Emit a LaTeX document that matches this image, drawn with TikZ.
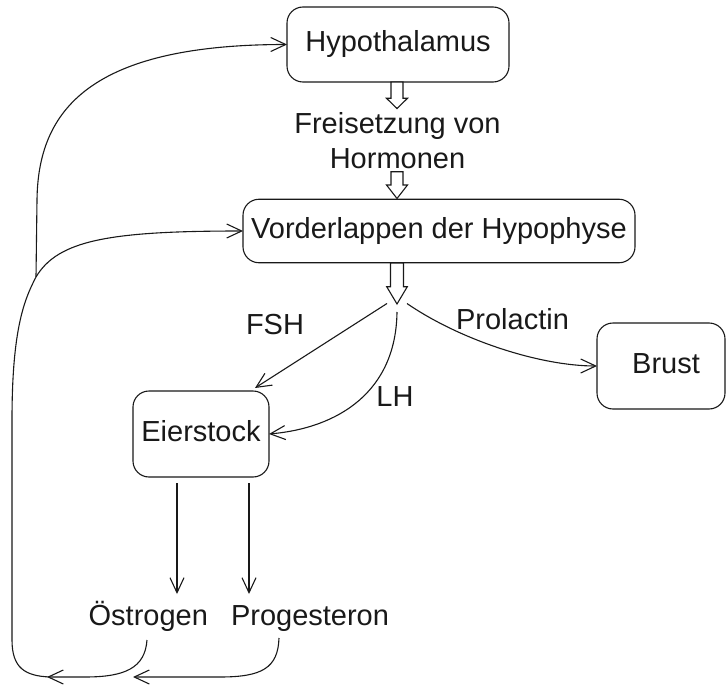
\documentclass[tikz,border=0pt]{standalone}
\usepackage{fontspec}
\setmainfont{Liberation Sans}
\usetikzlibrary{arrows.meta,calc}
\begin{document}
\begin{tikzpicture}[x=1pt,y=-1pt,
  line width=1.1pt,
  every node/.style={font=\fontsize{29}{34}\selectfont, text=black!90},
  box/.style={draw=black!90, rounded corners=16pt, inner sep=0pt, outer sep=0pt,
    text height=21pt, text depth=6pt},
  lbl/.style={anchor=base, inner sep=0pt},
  conn/.style={draw=black!90, -{Straight Barb[length=15pt,width=14pt,line width=1.1pt]}},
  blk/.style={draw=black!90, fill=white, line join=miter}
]
\useasboundingbox (0,0) rectangle (726,685);

% boxes
\node[box, minimum width=222pt, minimum height=75pt] (hyp) at (398,44.5) {Hypothalamus};
\node[box, minimum width=392pt, minimum height=63.5pt] (vord) at (439,231) {Vorderlappen der Hypophyse};
\node[box, minimum width=136pt, minimum height=86pt] (eier) at (201,434) {Eierstock};
\node[box, minimum width=128pt, minimum height=86pt] (brust) at (661,366) {\hspace*{10pt}Brust};

% labels
\node[lbl] (frei) at (397.5,133.3) {Freisetzung von};
\node[lbl] (horm) at (397.5,168.3) {Hormonen};
\node[lbl] (fsh) at (275,334) {FSH};
\node[lbl] (lh) at (395,406.7) {LH};
\node[lbl] (prol) at (512.5,329.3) {Prolactin};
\node[lbl] (oest) at (148.3,625.5) {Östrogen};
\node[lbl] (prog) at (310,625) {Progesteron};

% hollow block arrows
\path[blk] (391,82) -- (391,98.3) -- (386.5,98.3) -- (397,108.5) -- (407.5,98.3) -- (403,98.3) -- (403,82) -- cycle;
\path[blk] (391,171.7) -- (391,185) -- (386.5,185) -- (397,198.5) -- (407.5,185) -- (403,185) -- (403,171.7) -- cycle;
\path[blk] (390.5,263) -- (390.5,286.7) -- (386.7,286.7) -- (397,304) -- (407.3,286.7) -- (403.5,286.7) -- (403.5,263) -- cycle;

% connector endpoints
\coordinate (fshS) at (387,303.5);
\coordinate (fshE) at (255,388);
\coordinate (lhS) at (397,312);
\coordinate (prolS) at (407,303.5);
\coordinate (oestS) at (177,483);
\coordinate (oestE) at (177,594);
\coordinate (progS) at (249,483);
\coordinate (progE) at (249,594);
\coordinate (oestC) at (147,640);
\coordinate (oestT) at (47,677);
\coordinate (progC) at (279,638);
\coordinate (progT) at (133,677);
\coordinate (fbS) at (50,677);
\coordinate (fbJ) at (36,277);

% hormone connectors
\draw[conn] (fshS) -- (fshE);
\draw[conn] (lhS) .. controls (396,392) and (338,428) .. (eier.east);
\draw[conn] (prolS) .. controls (460,340) and (540,366) .. (brust.west);
\draw[conn] (oestS) -- (oestE);
\draw[conn] (progS) -- (progE);

% feedback
\draw[conn] (oestC) .. controls (145,668) and (125,677) .. (85,677) -- (oestT);
\draw[conn] (progC) .. controls (278,668) and (262,677) .. (220,677) -- (progT);
\draw[conn] (fbS) .. controls (25,676) and (12,668) .. (12,640) -- (12,420)
  .. controls (12,330) and (24,300) .. (fbJ)
  .. controls (58,240) and (110,231) .. (vord.west);
\draw[conn] (fbJ) -- (37,200) .. controls (38,110) and (90,44.5) .. (hyp.west);
\end{tikzpicture}
\end{document}
